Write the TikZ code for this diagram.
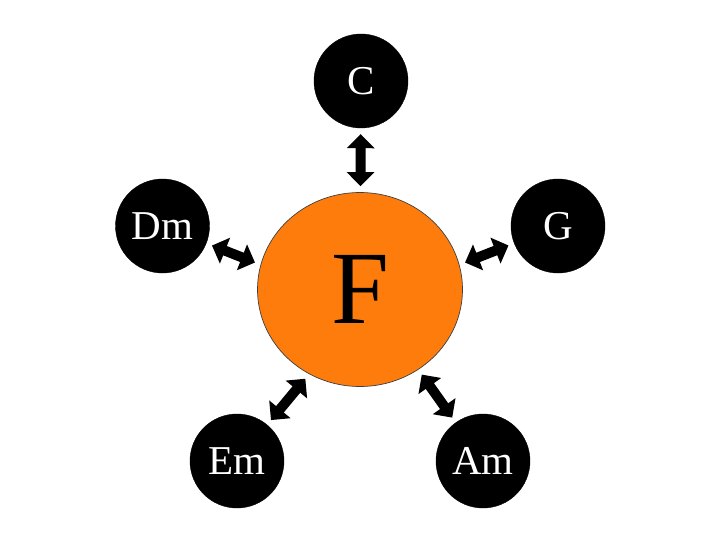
\documentclass[tikz,border=0pt]{standalone}
\usepackage{fontspec}
\setmainfont{Liberation Serif}
\usepackage{tikz}
\usetikzlibrary{arrows.meta,shapes.geometric}
\definecolor{keyorange}{RGB}{253,124,12}
\tikzset{
  chord/.style={draw=black, fill=black, circle, minimum size=94pt, inner sep=0pt, text=white, font=\fontsize{41}{41}\selectfont},
  tonic/.style={draw=black!75, line width=0.7pt, fill=keyorange, ellipse, minimum width=205pt, minimum height=194pt, inner sep=0pt, font=\fontsize{104}{104}\selectfont},
  arr/.style={{Triangle[length=14pt,width=27pt]}-{Triangle[length=14pt,width=27pt]}, line width=10pt, shorten <=6pt, shorten >=6pt}
}

\begin{document}
\begin{tikzpicture}[x=1pt,y=-1pt]
\useasboundingbox (0,0) rectangle (720,540);
\node[tonic] (F) at (360,289.5) {F};
\node[chord] (C) at (361,81) {C};
\node[chord] (Dm) at (162.5,226) {Dm};
\node[chord] (G) at (558,226) {G};
\node[chord] (Em) at (237,461) {Em};
\node[chord] (Am) at (483,461) {Am};

\draw[arr] (C) -- (F);
\draw[arr] (Dm) -- (F.166);
\draw[arr] (G) -- (F.14);
\draw[arr] (Em) -- (F.239);
\draw[arr] (Am) -- (F.306);
\end{tikzpicture}
\end{document}
